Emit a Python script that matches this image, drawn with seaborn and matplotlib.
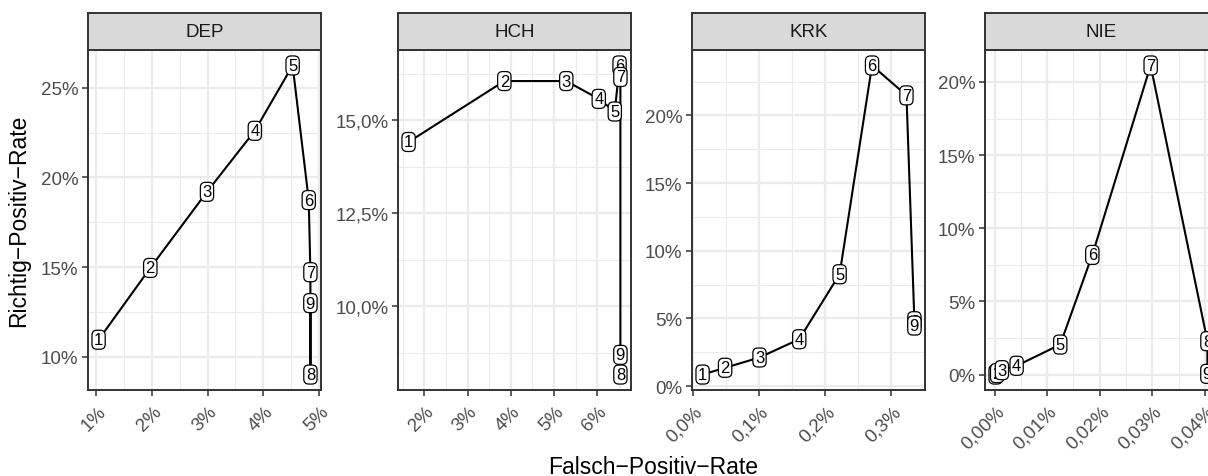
import numpy as np
import pandas as pd
import matplotlib
matplotlib.use("Agg")
import matplotlib.pyplot as plt
from matplotlib.ticker import FixedLocator, FixedFormatter
from matplotlib.transforms import ScaledTranslation
import seaborn as sns

# ---- data (rates in percent) ----
panels = ["DEP", "HCH", "KRK", "NIE"]
steps = [1, 2, 3, 4, 5, 6, 7, 8, 9]

dep_fpr = [1.04, 1.97, 2.99, 3.85, 4.53, 4.82, 4.85, 4.85, 4.85]
dep_tpr = [10.96, 14.96, 19.20, 22.60, 26.24, 18.74, 14.72, 9.02, 13.00]

hch_fpr = [1.64, 3.85, 5.28, 6.03, 6.40, 6.51, 6.53, 6.53, 6.53]
hch_tpr = [14.42, 16.06, 16.06, 15.58, 15.24, 16.48, 16.17, 8.16, 8.69]

krk_fpr = [0.015, 0.049, 0.101, 0.161, 0.222, 0.271, 0.323, 0.335, 0.335]
krk_tpr = [0.86, 1.36, 2.12, 3.47, 8.27, 23.69, 21.48, 4.80, 4.48]

nie_fpr = [0.0002, 0.0005, 0.0014, 0.0042, 0.0125, 0.0186, 0.0297, 0.0405, 0.0405]
nie_tpr = [0.00, 0.10, 0.30, 0.60, 2.05, 8.18, 21.13, 2.28, 0.05]

# ---- axis breaks and labels ----
dep_xbreaks = [1, 2, 3, 4, 5]
dep_xlabels = ["1%", "2%", "3%", "4%", "5%"]
dep_ybreaks = [10, 15, 20, 25]
dep_ylabels = ["10%", "15%", "20%", "25%"]

hch_xbreaks = [2, 3, 4, 5, 6]
hch_xlabels = ["2%", "3%", "4%", "5%", "6%"]
hch_ybreaks = [10, 12.5, 15]
hch_ylabels = ["10,0%", "12,5%", "15,0%"]

krk_xbreaks = [0.0, 0.1, 0.2, 0.3]
krk_xlabels = ["0,0%", "0,1%", "0,2%", "0,3%"]
krk_ybreaks = [0, 5, 10, 15, 20]
krk_ylabels = ["0%", "5%", "10%", "15%", "20%"]

nie_xbreaks = [0.0, 0.01, 0.02, 0.03, 0.04]
nie_xlabels = ["0,00%", "0,01%", "0,02%", "0,03%", "0,04%"]
nie_ybreaks = [0, 5, 10, 15, 20]
nie_ylabels = ["0%", "5%", "10%", "15%", "20%"]

frames = []
for name, fx, ty in [("DEP", dep_fpr, dep_tpr), ("HCH", hch_fpr, hch_tpr),
                     ("KRK", krk_fpr, krk_tpr), ("NIE", nie_fpr, nie_tpr)]:
    frames.append(pd.DataFrame({"panel": name, "step": steps, "fpr": fx, "tpr": ty}))
df = pd.concat(frames, ignore_index=True)

scales = {
    "DEP": (dep_xbreaks, dep_xlabels, dep_ybreaks, dep_ylabels),
    "HCH": (hch_xbreaks, hch_xlabels, hch_ybreaks, hch_ylabels),
    "KRK": (krk_xbreaks, krk_xlabels, krk_ybreaks, krk_ylabels),
    "NIE": (nie_xbreaks, nie_xlabels, nie_ybreaks, nie_ylabels),
}

# ---- theme ----
sns.set_theme(style="white")
plt.rcParams["font.family"] = ["Liberation Sans", "DejaVu Sans"]

W, H = 1208, 477
fig = plt.figure(figsize=(W / 100, H / 100), dpi=100)
fig.patch.set_facecolor("white")

panel_left = [88, 398, 692, 985]
panel_w = 233
panel_top, panel_bottom, strip_top = 51, 391, 14

border = "#333333"
grid_col = "#EBEBEB"
tick_size = 13.5


def minor_breaks(br, lo, hi):
    step = br[1] - br[0]
    vals = np.arange(br[0] - step / 2, br[-1] + step, step)
    return [v for v in vals if lo <= v <= hi]


for name, left in zip(panels, panel_left):
    sub = df[df["panel"] == name]
    ax = fig.add_axes([left / W, (H - panel_bottom) / H, panel_w / W,
                       (panel_bottom - panel_top) / H])
    ax.set_facecolor("white")

    sns.lineplot(data=sub, x="fpr", y="tpr", sort=False, estimator=None,
                 color="black", linewidth=1.5, ax=ax, zorder=3)

    for _, r in sub.iterrows():
        ax.text(r["fpr"], r["tpr"], str(int(r["step"])), ha="center", va="center",
                fontsize=12, color="black", zorder=4,
                bbox=dict(boxstyle="round,pad=0.12,rounding_size=0.3",
                          fc="white", ec="black", lw=0.9))

    # ggplot-style 5% expansion of the data range
    xlo, xhi = sub["fpr"].min(), sub["fpr"].max()
    ylo, yhi = sub["tpr"].min(), sub["tpr"].max()
    xp, yp = 0.05 * (xhi - xlo), 0.05 * (yhi - ylo)
    ax.set_xlim(xlo - xp, xhi + xp)
    ax.set_ylim(ylo - yp, yhi + yp)

    xb, xl, yb, yl = scales[name]
    ax.xaxis.set_major_locator(FixedLocator(xb))
    ax.xaxis.set_major_formatter(FixedFormatter(xl))
    ax.yaxis.set_major_locator(FixedLocator(yb))
    ax.yaxis.set_major_formatter(FixedFormatter(yl))
    ax.xaxis.set_minor_locator(FixedLocator(minor_breaks(xb, xlo - xp, xhi + xp)))
    ax.yaxis.set_minor_locator(FixedLocator(minor_breaks(yb, ylo - yp, yhi + yp)))

    ax.grid(which="major", color=grid_col, linewidth=1.6, zorder=0)
    ax.grid(which="minor", color=grid_col, linewidth=0.8, zorder=0)
    ax.set_axisbelow(True)

    ax.tick_params(which="major", direction="out", length=4.5, width=1.1,
                   color=border, labelsize=tick_size, labelcolor="#4D4D4D",
                   bottom=True, left=True, pad=2.5)
    ax.tick_params(which="minor", length=0)
    shift = ScaledTranslation(1 / 100, -3 / 100, fig.dpi_scale_trans)
    for lab in ax.get_xticklabels():
        lab.set_rotation(45)
        lab.set_ha("right")
        lab.set_va("top")
        lab.set_rotation_mode("anchor")
        lab.set_transform(lab.get_transform() + shift)
    for sp in ax.spines.values():
        sp.set_color(border)
        sp.set_linewidth(1.4)
    ax.set_xlabel("")
    ax.set_ylabel("")

    # facet strip
    sax = fig.add_axes([left / W, (H - panel_top) / H, panel_w / W,
                        (panel_top - strip_top) / H])
    sax.set_facecolor("#D9D9D9")
    sax.set_xticks([])
    sax.set_yticks([])
    for sp in sax.spines.values():
        sp.set_color(border)
        sp.set_linewidth(1.4)
    sax.text(0.5, 0.5, name, ha="center", va="center", fontsize=tick_size,
             color="#1A1A1A", transform=sax.transAxes)

fig.text(19 / W, 1 - 221 / H, "Richtig\u2212Positiv\u2212Rate", rotation=90,
         ha="center", va="center", fontsize=16.5, color="black")
fig.text(653 / W, 1 - 474 / H, "Falsch\u2212Positiv\u2212Rate",
         ha="center", va="baseline", fontsize=16.5, color="black")

fig.savefig("out.png", dpi=100, facecolor="white")
